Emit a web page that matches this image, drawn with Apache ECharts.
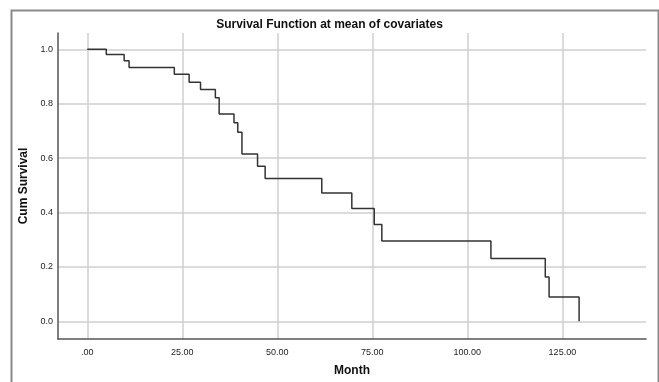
<!DOCTYPE html>
<html>
<head>
<meta charset="utf-8">
<script src="https://cdn.jsdelivr.net/npm/echarts@6/dist/echarts.min.js"></script>
<style>html,body{margin:0;padding:0;background:#fff}#c{width:659px;height:382px}</style>
</head>
<body>
<div id="c"></div>
<script>
var months = [0, 5, 9.7, 11, 22.9, 26.8, 29.8, 33.7, 34.7, 38.6, 39.6, 40.7, 44.8, 46.8, 61.7, 69.6, 75.5, 77.5, 106.2, 120.5, 121.5, 129.4];
var survival = [1.0, 0.981, 0.958, 0.933, 0.908, 0.879, 0.852, 0.822, 0.762, 0.730, 0.695, 0.615, 0.570, 0.525, 0.472, 0.415, 0.356, 0.295, 0.231, 0.163, 0.089, 0.0];
var xTickValues = [0, 25, 50, 75, 100, 125];
var yTickValues = [0, 0.2, 0.4, 0.6, 0.8, 1.0];

var chart = echarts.init(document.getElementById('c'), null, {renderer: 'canvas'});
var pts = months.map(function (m, i) { return [m, survival[i]]; });
function isTick(v, list) { return list.some(function (t) { return Math.abs(t - v) < 1e-6; }); }

chart.setOption({
  animation: false,
  backgroundColor: '#fff',
  title: {
    text: 'Survival Function at mean of covariates',
    left: 'center', top: 14,
    textStyle: {fontFamily: 'Liberation Sans', fontSize: 12, fontWeight: 'bold', color: '#111'}
  },
  graphic: [{
    type: 'rect', left: 9, top: 8, silent: true,
    shape: {width: 647, height: 400},
    style: {fill: 'none', stroke: '#8a8a8a', lineWidth: 2}
  }],
  grid: {left: 58, right: 13, top: 33, bottom: 41, containLabel: false},
  xAxis: {
    type: 'value', min: -7.7, max: 147, minInterval: 25, maxInterval: 25,
    name: 'Month', nameLocation: 'middle', nameGap: 26,
    nameTextStyle: {fontFamily: 'Liberation Sans', fontSize: 12, fontWeight: 'bold', color: '#111'},
    axisLine: {show: true, onZero: false, lineStyle: {color: '#555', width: 1.5}},
    axisTick: {show: false},
    axisLabel: {
      margin: 9, fontFamily: 'Liberation Sans', fontSize: 9, color: '#222',
      showMinLabel: false, showMaxLabel: false,
      formatter: function (v) { if (!isTick(v, xTickValues)) return ''; return v === 0 ? '.00' : v.toFixed(2); }
    },
    splitLine: {show: true, showMinLine: false, showMaxLine: false, lineStyle: {color: '#cfcfcf', width: 1.5}}
  },
  yAxis: {
    type: 'value', min: -0.065, max: 1.06, minInterval: 0.2, maxInterval: 0.2,
    name: 'Cum Survival', nameLocation: 'middle', nameGap: 25, nameRotate: 90,
    nameTextStyle: {fontFamily: 'Liberation Sans', fontSize: 12, fontWeight: 'bold', color: '#111'},
    axisLine: {show: true, onZero: false, lineStyle: {color: '#555', width: 1.5}},
    axisTick: {show: false},
    axisLabel: {
      margin: 5, fontFamily: 'Liberation Sans', fontSize: 9, color: '#222',
      showMinLabel: false, showMaxLabel: false,
      formatter: function (v) { if (!isTick(v, yTickValues)) return ''; return v.toFixed(1); }
    },
    splitLine: {show: true, showMinLine: false, showMaxLine: false, lineStyle: {color: '#cfcfcf', width: 1.5}}
  },
  series: [{
    type: 'line', step: 'end', data: pts, symbol: 'none',
    lineStyle: {color: '#333', width: 1.5}
  }]
});
</script>
</body>
</html>
